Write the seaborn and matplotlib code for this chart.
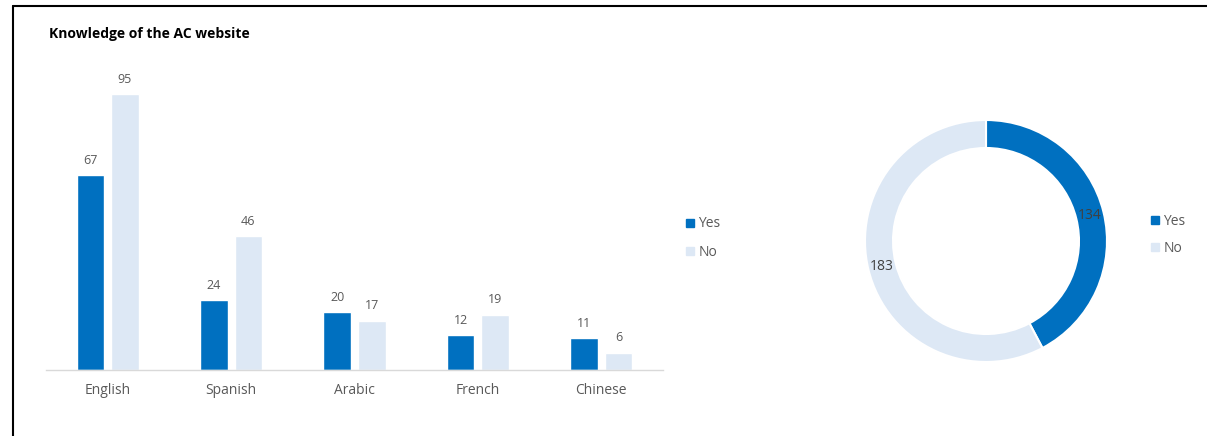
import matplotlib
matplotlib.use("Agg")
import matplotlib.pyplot as plt
from matplotlib.lines import Line2D
import seaborn as sns
import pandas as pd
import numpy as np

# ---- data ----
languages = ["English", "Spanish", "Arabic", "French", "Chinese"]
yes_values = [67, 24, 20, 12, 11]
no_values = [95, 46, 17, 19, 6]
answers = ["Yes", "No"]
total_values = [134, 183]
title = "Knowledge of the AC website"

YES_C = "#0070C0"
NO_C = "#DDE8F5"
TXT = "#595959"

sns.set_theme(style="white")
plt.rcParams["font.family"] = ["Open Sans", "DejaVu Sans"]

df = pd.DataFrame({
    "Language": languages * 2,
    "Answer": ["Yes"] * len(languages) + ["No"] * len(languages),
    "Count": yes_values + no_values,
})

W, H = 1207, 436
fig = plt.figure(figsize=(W / 100, H / 100), dpi=100)

# ---- bar chart ----
ax = fig.add_axes([46 / W, (H - 370) / H, 617 / W, 310 / H])
sns.barplot(data=df, x="Language", y="Count", hue="Answer", order=languages,
            hue_order=answers, palette=[YES_C, NO_C], width=0.56, gap=0.2,
            saturation=1, ax=ax, legend=False)
ax.set_ylim(0, 310 / 2.905)
ax.set_xlim(-0.5, len(languages) - 0.5)
for c in ax.containers:
    ax.bar_label(c, padding=6, fontsize=9, color=TXT)
ax.set_xlabel("")
ax.set_ylabel("")
ax.set_yticks([])
for s in ["top", "right", "left"]:
    ax.spines[s].set_visible(False)
ax.spines["bottom"].set_color("#D9D9D9")
ax.spines["bottom"].set_linewidth(1)
ax.tick_params(axis="x", length=0, pad=9, labelsize=10, labelcolor=TXT)
ax.patch.set_alpha(0)

handles = [Line2D([], [], marker="s", linestyle="", markersize=6, color=YES_C),
           Line2D([], [], marker="s", linestyle="", markersize=6, color=NO_C)]
fig.legend(handles, answers, loc="center left", bbox_to_anchor=(686 / W, 1 - 238 / H),
           frameon=False, fontsize=10, labelcolor=TXT, handlelength=0.6,
           handletextpad=0.3, labelspacing=0.95, borderaxespad=0, borderpad=0)

# ---- donut ----
R = 121
half = 130
cx, cy = 986, 241
ax2 = fig.add_axes([(cx - half) / W, (H - cy - half) / H, 2 * half / W, 2 * half / H])
ax2.pie(total_values, colors=[YES_C, NO_C], startangle=90, counterclock=False,
        radius=1, wedgeprops=dict(width=28 / R, edgecolor="white", linewidth=1.5))
tot = sum(total_values)
start = 90
r_lab = 1 - 14 / R
for v in total_values:
    mid = start - 360 * v / tot / 2
    ax2.text(r_lab * np.cos(np.radians(mid)), r_lab * np.sin(np.radians(mid)), str(v),
             ha="center", va="center", fontsize=10, color="#404040")
    start -= 360 * v / tot
lim = half / R
ax2.set_xlim(-lim, lim)
ax2.set_ylim(-lim, lim)
ax2.set_aspect("equal")
ax2.axis("off")

fig.legend(handles, answers, loc="center left", bbox_to_anchor=(1151 / W, 1 - 235 / H),
           frameon=False, fontsize=10, labelcolor=TXT, handlelength=0.6,
           handletextpad=0.3, labelspacing=0.9, borderaxespad=0, borderpad=0)

# ---- title and frame ----
fig.text(49 / W, 1 - 34 / H, title, fontsize=10, fontweight="bold", color="black",
         ha="left", va="center")
fig.add_artist(Line2D([13 / W, 1], [1 - 6.5 / H, 1 - 6.5 / H], color="black", lw=1.5,
                      transform=fig.transFigure))
fig.add_artist(Line2D([13 / W, 13 / W], [0, 1 - 6.5 / H], color="black", lw=1.5,
                      transform=fig.transFigure))

fig.savefig("out.png", dpi=100)
